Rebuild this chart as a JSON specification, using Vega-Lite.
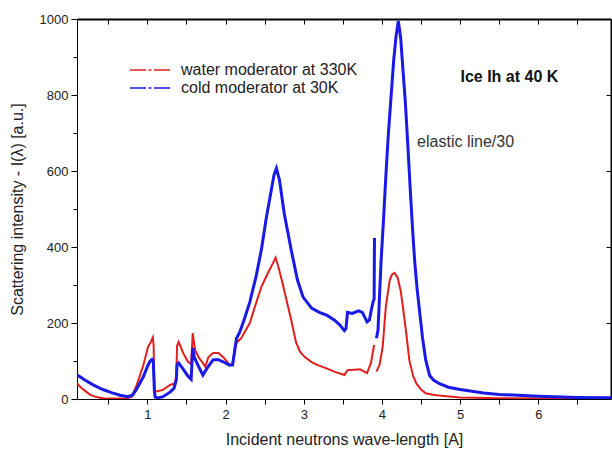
{
  "$schema": "https://vega.github.io/schema/vega-lite/v6.json",
  "width": 534,
  "height": 380,
  "autosize": {"type": "none"},
  "padding": {"left": 77, "top": 19, "right": 1, "bottom": 50},
  "background": "white",
  "config": {
    "font": "Liberation Sans",
    "view": {"stroke": null},
    "axis": {
      "grid": false,
      "domainColor": "#000000",
      "domainWidth": 1,
      "tickColor": "#000000",
      "tickWidth": 1,
      "labelColor": "#222222",
      "labelFontSize": 13,
      "labelFont": "Liberation Sans",
      "titleFont": "Liberation Sans",
      "titleFontSize": 16,
      "titleFontWeight": "normal",
      "titleColor": "#222222"
    },
    "legend": {
      "labelFont": "Liberation Sans",
      "labelFontSize": 16,
      "labelColor": "#222222",
      "labelLimit": 400
    }
  },
  "datasets": {
    "water": [
      {"series": "water moderator at 330K", "seg": 1, "lam": 0.1, "I": 42},
      {"series": "water moderator at 330K", "seg": 1, "lam": 0.15, "I": 30},
      {"series": "water moderator at 330K", "seg": 1, "lam": 0.2, "I": 22},
      {"series": "water moderator at 330K", "seg": 1, "lam": 0.27, "I": 11},
      {"series": "water moderator at 330K", "seg": 1, "lam": 0.35, "I": 5},
      {"series": "water moderator at 330K", "seg": 1, "lam": 0.43, "I": 2},
      {"series": "water moderator at 330K", "seg": 1, "lam": 0.6, "I": 1},
      {"series": "water moderator at 330K", "seg": 1, "lam": 0.75, "I": 2},
      {"series": "water moderator at 330K", "seg": 1, "lam": 0.8, "I": 6},
      {"series": "water moderator at 330K", "seg": 1, "lam": 0.86, "I": 35},
      {"series": "water moderator at 330K", "seg": 1, "lam": 0.9, "I": 59},
      {"series": "water moderator at 330K", "seg": 1, "lam": 0.95, "I": 90},
      {"series": "water moderator at 330K", "seg": 1, "lam": 1.01, "I": 138},
      {"series": "water moderator at 330K", "seg": 1, "lam": 1.04, "I": 148},
      {"series": "water moderator at 330K", "seg": 1, "lam": 1.07, "I": 162},
      {"series": "water moderator at 330K", "seg": 1, "lam": 1.08, "I": 140},
      {"series": "water moderator at 330K", "seg": 1, "lam": 1.09, "I": 30},
      {"series": "water moderator at 330K", "seg": 1, "lam": 1.1, "I": 19},
      {"series": "water moderator at 330K", "seg": 1, "lam": 1.2, "I": 24},
      {"series": "water moderator at 330K", "seg": 1, "lam": 1.29, "I": 37},
      {"series": "water moderator at 330K", "seg": 1, "lam": 1.35, "I": 41},
      {"series": "water moderator at 330K", "seg": 1, "lam": 1.37, "I": 60},
      {"series": "water moderator at 330K", "seg": 1, "lam": 1.38, "I": 140},
      {"series": "water moderator at 330K", "seg": 1, "lam": 1.4, "I": 150},
      {"series": "water moderator at 330K", "seg": 1, "lam": 1.46, "I": 120},
      {"series": "water moderator at 330K", "seg": 1, "lam": 1.52, "I": 98},
      {"series": "water moderator at 330K", "seg": 1, "lam": 1.56, "I": 92},
      {"series": "water moderator at 330K", "seg": 1, "lam": 1.58, "I": 173},
      {"series": "water moderator at 330K", "seg": 1, "lam": 1.61, "I": 129},
      {"series": "water moderator at 330K", "seg": 1, "lam": 1.66, "I": 108},
      {"series": "water moderator at 330K", "seg": 1, "lam": 1.71, "I": 95},
      {"series": "water moderator at 330K", "seg": 1, "lam": 1.74, "I": 85},
      {"series": "water moderator at 330K", "seg": 1, "lam": 1.78, "I": 110},
      {"series": "water moderator at 330K", "seg": 1, "lam": 1.84, "I": 121},
      {"series": "water moderator at 330K", "seg": 1, "lam": 1.91, "I": 121},
      {"series": "water moderator at 330K", "seg": 1, "lam": 1.98, "I": 108},
      {"series": "water moderator at 330K", "seg": 1, "lam": 2.05, "I": 90},
      {"series": "water moderator at 330K", "seg": 1, "lam": 2.09, "I": 92},
      {"series": "water moderator at 330K", "seg": 1, "lam": 2.12, "I": 140},
      {"series": "water moderator at 330K", "seg": 1, "lam": 2.15, "I": 150},
      {"series": "water moderator at 330K", "seg": 1, "lam": 2.2, "I": 160},
      {"series": "water moderator at 330K", "seg": 1, "lam": 2.31, "I": 200},
      {"series": "water moderator at 330K", "seg": 1, "lam": 2.41, "I": 265},
      {"series": "water moderator at 330K", "seg": 1, "lam": 2.46, "I": 296},
      {"series": "water moderator at 330K", "seg": 1, "lam": 2.54, "I": 331},
      {"series": "water moderator at 330K", "seg": 1, "lam": 2.6, "I": 355},
      {"series": "water moderator at 330K", "seg": 1, "lam": 2.64, "I": 372},
      {"series": "water moderator at 330K", "seg": 1, "lam": 2.68, "I": 345},
      {"series": "water moderator at 330K", "seg": 1, "lam": 2.73, "I": 304},
      {"series": "water moderator at 330K", "seg": 1, "lam": 2.78, "I": 260},
      {"series": "water moderator at 330K", "seg": 1, "lam": 2.84, "I": 208},
      {"series": "water moderator at 330K", "seg": 1, "lam": 2.9, "I": 150},
      {"series": "water moderator at 330K", "seg": 1, "lam": 2.95, "I": 125},
      {"series": "water moderator at 330K", "seg": 1, "lam": 3.01, "I": 111},
      {"series": "water moderator at 330K", "seg": 1, "lam": 3.1, "I": 97},
      {"series": "water moderator at 330K", "seg": 1, "lam": 3.18, "I": 89},
      {"series": "water moderator at 330K", "seg": 1, "lam": 3.3, "I": 80},
      {"series": "water moderator at 330K", "seg": 1, "lam": 3.39, "I": 72},
      {"series": "water moderator at 330K", "seg": 1, "lam": 3.52, "I": 63},
      {"series": "water moderator at 330K", "seg": 1, "lam": 3.56, "I": 76},
      {"series": "water moderator at 330K", "seg": 1, "lam": 3.65, "I": 77},
      {"series": "water moderator at 330K", "seg": 1, "lam": 3.72, "I": 78},
      {"series": "water moderator at 330K", "seg": 1, "lam": 3.81, "I": 68},
      {"series": "water moderator at 330K", "seg": 1, "lam": 3.86, "I": 95},
      {"series": "water moderator at 330K", "seg": 1, "lam": 3.9, "I": 142},
      {"series": "water moderator at 330K", "seg": 2, "lam": 3.93, "I": 72},
      {"series": "water moderator at 330K", "seg": 2, "lam": 3.97, "I": 90},
      {"series": "water moderator at 330K", "seg": 2, "lam": 4.01, "I": 138},
      {"series": "water moderator at 330K", "seg": 2, "lam": 4.05, "I": 243},
      {"series": "water moderator at 330K", "seg": 2, "lam": 4.1, "I": 313},
      {"series": "water moderator at 330K", "seg": 2, "lam": 4.13, "I": 328},
      {"series": "water moderator at 330K", "seg": 2, "lam": 4.16, "I": 332},
      {"series": "water moderator at 330K", "seg": 2, "lam": 4.2, "I": 320},
      {"series": "water moderator at 330K", "seg": 2, "lam": 4.24, "I": 285},
      {"series": "water moderator at 330K", "seg": 2, "lam": 4.27, "I": 240},
      {"series": "water moderator at 330K", "seg": 2, "lam": 4.31, "I": 175},
      {"series": "water moderator at 330K", "seg": 2, "lam": 4.35, "I": 103},
      {"series": "water moderator at 330K", "seg": 2, "lam": 4.4, "I": 60},
      {"series": "water moderator at 330K", "seg": 2, "lam": 4.44, "I": 41},
      {"series": "water moderator at 330K", "seg": 2, "lam": 4.5, "I": 25},
      {"series": "water moderator at 330K", "seg": 2, "lam": 4.56, "I": 15},
      {"series": "water moderator at 330K", "seg": 2, "lam": 4.65, "I": 11},
      {"series": "water moderator at 330K", "seg": 2, "lam": 4.73, "I": 9},
      {"series": "water moderator at 330K", "seg": 2, "lam": 5.0, "I": 4},
      {"series": "water moderator at 330K", "seg": 2, "lam": 5.5, "I": 2},
      {"series": "water moderator at 330K", "seg": 2, "lam": 6.2, "I": 1},
      {"series": "water moderator at 330K", "seg": 2, "lam": 6.93, "I": 1}
    ],
    "cold": [
      {"series": "cold moderator at 30K", "seg": 1, "lam": 0.1, "I": 63},
      {"series": "cold moderator at 30K", "seg": 1, "lam": 0.15, "I": 57},
      {"series": "cold moderator at 30K", "seg": 1, "lam": 0.2, "I": 50},
      {"series": "cold moderator at 30K", "seg": 1, "lam": 0.3, "I": 38},
      {"series": "cold moderator at 30K", "seg": 1, "lam": 0.43, "I": 25},
      {"series": "cold moderator at 30K", "seg": 1, "lam": 0.55, "I": 16},
      {"series": "cold moderator at 30K", "seg": 1, "lam": 0.65, "I": 10},
      {"series": "cold moderator at 30K", "seg": 1, "lam": 0.75, "I": 6},
      {"series": "cold moderator at 30K", "seg": 1, "lam": 0.81, "I": 10},
      {"series": "cold moderator at 30K", "seg": 1, "lam": 0.86, "I": 25},
      {"series": "cold moderator at 30K", "seg": 1, "lam": 0.9, "I": 40},
      {"series": "cold moderator at 30K", "seg": 1, "lam": 0.95, "I": 59},
      {"series": "cold moderator at 30K", "seg": 1, "lam": 1.0, "I": 85},
      {"series": "cold moderator at 30K", "seg": 1, "lam": 1.03, "I": 98},
      {"series": "cold moderator at 30K", "seg": 1, "lam": 1.06, "I": 104},
      {"series": "cold moderator at 30K", "seg": 1, "lam": 1.075, "I": 100},
      {"series": "cold moderator at 30K", "seg": 1, "lam": 1.09, "I": 20},
      {"series": "cold moderator at 30K", "seg": 1, "lam": 1.1, "I": 5},
      {"series": "cold moderator at 30K", "seg": 1, "lam": 1.14, "I": 3},
      {"series": "cold moderator at 30K", "seg": 1, "lam": 1.2, "I": 6},
      {"series": "cold moderator at 30K", "seg": 1, "lam": 1.29, "I": 18},
      {"series": "cold moderator at 30K", "seg": 1, "lam": 1.34, "I": 28},
      {"series": "cold moderator at 30K", "seg": 1, "lam": 1.37, "I": 50},
      {"series": "cold moderator at 30K", "seg": 1, "lam": 1.38, "I": 90},
      {"series": "cold moderator at 30K", "seg": 1, "lam": 1.4, "I": 95},
      {"series": "cold moderator at 30K", "seg": 1, "lam": 1.46, "I": 78},
      {"series": "cold moderator at 30K", "seg": 1, "lam": 1.52, "I": 60},
      {"series": "cold moderator at 30K", "seg": 1, "lam": 1.56, "I": 52},
      {"series": "cold moderator at 30K", "seg": 1, "lam": 1.58, "I": 135},
      {"series": "cold moderator at 30K", "seg": 1, "lam": 1.6, "I": 110},
      {"series": "cold moderator at 30K", "seg": 1, "lam": 1.65, "I": 88},
      {"series": "cold moderator at 30K", "seg": 1, "lam": 1.71, "I": 63},
      {"series": "cold moderator at 30K", "seg": 1, "lam": 1.76, "I": 80},
      {"series": "cold moderator at 30K", "seg": 1, "lam": 1.84, "I": 103},
      {"series": "cold moderator at 30K", "seg": 1, "lam": 1.9, "I": 104},
      {"series": "cold moderator at 30K", "seg": 1, "lam": 1.97, "I": 98},
      {"series": "cold moderator at 30K", "seg": 1, "lam": 2.05, "I": 89},
      {"series": "cold moderator at 30K", "seg": 1, "lam": 2.09, "I": 90},
      {"series": "cold moderator at 30K", "seg": 1, "lam": 2.12, "I": 130},
      {"series": "cold moderator at 30K", "seg": 1, "lam": 2.14, "I": 160},
      {"series": "cold moderator at 30K", "seg": 1, "lam": 2.18, "I": 175},
      {"series": "cold moderator at 30K", "seg": 1, "lam": 2.24, "I": 210},
      {"series": "cold moderator at 30K", "seg": 1, "lam": 2.31, "I": 255},
      {"series": "cold moderator at 30K", "seg": 1, "lam": 2.39, "I": 322},
      {"series": "cold moderator at 30K", "seg": 1, "lam": 2.46, "I": 395},
      {"series": "cold moderator at 30K", "seg": 1, "lam": 2.52, "I": 475},
      {"series": "cold moderator at 30K", "seg": 1, "lam": 2.59, "I": 555},
      {"series": "cold moderator at 30K", "seg": 1, "lam": 2.62, "I": 590},
      {"series": "cold moderator at 30K", "seg": 1, "lam": 2.65, "I": 607},
      {"series": "cold moderator at 30K", "seg": 1, "lam": 2.69, "I": 576},
      {"series": "cold moderator at 30K", "seg": 1, "lam": 2.75, "I": 489},
      {"series": "cold moderator at 30K", "seg": 1, "lam": 2.84, "I": 392},
      {"series": "cold moderator at 30K", "seg": 1, "lam": 2.92, "I": 313},
      {"series": "cold moderator at 30K", "seg": 1, "lam": 2.99, "I": 269},
      {"series": "cold moderator at 30K", "seg": 1, "lam": 3.1, "I": 239},
      {"series": "cold moderator at 30K", "seg": 1, "lam": 3.2, "I": 228},
      {"series": "cold moderator at 30K", "seg": 1, "lam": 3.3, "I": 220},
      {"series": "cold moderator at 30K", "seg": 1, "lam": 3.39, "I": 208},
      {"series": "cold moderator at 30K", "seg": 1, "lam": 3.46, "I": 195},
      {"series": "cold moderator at 30K", "seg": 1, "lam": 3.52, "I": 180},
      {"series": "cold moderator at 30K", "seg": 1, "lam": 3.54, "I": 185},
      {"series": "cold moderator at 30K", "seg": 1, "lam": 3.56, "I": 228},
      {"series": "cold moderator at 30K", "seg": 1, "lam": 3.62, "I": 225},
      {"series": "cold moderator at 30K", "seg": 1, "lam": 3.7, "I": 232},
      {"series": "cold moderator at 30K", "seg": 1, "lam": 3.75, "I": 228},
      {"series": "cold moderator at 30K", "seg": 1, "lam": 3.81, "I": 203},
      {"series": "cold moderator at 30K", "seg": 1, "lam": 3.84, "I": 208},
      {"series": "cold moderator at 30K", "seg": 1, "lam": 3.87, "I": 240},
      {"series": "cold moderator at 30K", "seg": 1, "lam": 3.89, "I": 258},
      {"series": "cold moderator at 30K", "seg": 1, "lam": 3.9, "I": 262},
      {"series": "cold moderator at 30K", "seg": 1, "lam": 3.905, "I": 424},
      {"series": "cold moderator at 30K", "seg": 2, "lam": 3.93, "I": 160},
      {"series": "cold moderator at 30K", "seg": 2, "lam": 3.95, "I": 181},
      {"series": "cold moderator at 30K", "seg": 2, "lam": 3.99, "I": 366},
      {"series": "cold moderator at 30K", "seg": 2, "lam": 4.02, "I": 470},
      {"series": "cold moderator at 30K", "seg": 2, "lam": 4.05, "I": 585},
      {"series": "cold moderator at 30K", "seg": 2, "lam": 4.08, "I": 690},
      {"series": "cold moderator at 30K", "seg": 2, "lam": 4.12, "I": 804},
      {"series": "cold moderator at 30K", "seg": 2, "lam": 4.15, "I": 890},
      {"series": "cold moderator at 30K", "seg": 2, "lam": 4.18, "I": 953},
      {"series": "cold moderator at 30K", "seg": 2, "lam": 4.21, "I": 995},
      {"series": "cold moderator at 30K", "seg": 2, "lam": 4.24, "I": 950},
      {"series": "cold moderator at 30K", "seg": 2, "lam": 4.26, "I": 892},
      {"series": "cold moderator at 30K", "seg": 2, "lam": 4.3, "I": 780},
      {"series": "cold moderator at 30K", "seg": 2, "lam": 4.33, "I": 673},
      {"series": "cold moderator at 30K", "seg": 2, "lam": 4.36, "I": 560},
      {"series": "cold moderator at 30K", "seg": 2, "lam": 4.39, "I": 453},
      {"series": "cold moderator at 30K", "seg": 2, "lam": 4.42, "I": 360},
      {"series": "cold moderator at 30K", "seg": 2, "lam": 4.45, "I": 290},
      {"series": "cold moderator at 30K", "seg": 2, "lam": 4.48, "I": 234},
      {"series": "cold moderator at 30K", "seg": 2, "lam": 4.52, "I": 160},
      {"series": "cold moderator at 30K", "seg": 2, "lam": 4.56, "I": 103},
      {"series": "cold moderator at 30K", "seg": 2, "lam": 4.61, "I": 62},
      {"series": "cold moderator at 30K", "seg": 2, "lam": 4.66, "I": 50},
      {"series": "cold moderator at 30K", "seg": 2, "lam": 4.73, "I": 41},
      {"series": "cold moderator at 30K", "seg": 2, "lam": 4.85, "I": 31},
      {"series": "cold moderator at 30K", "seg": 2, "lam": 5.0, "I": 25},
      {"series": "cold moderator at 30K", "seg": 2, "lam": 5.3, "I": 16},
      {"series": "cold moderator at 30K", "seg": 2, "lam": 5.5, "I": 12},
      {"series": "cold moderator at 30K", "seg": 2, "lam": 6.0, "I": 7},
      {"series": "cold moderator at 30K", "seg": 2, "lam": 6.5, "I": 4},
      {"series": "cold moderator at 30K", "seg": 2, "lam": 6.93, "I": 3}
    ],
    "title": [
      {"lam": 5.63, "I": 847, "text": "Ice Ih at 40 K"}
    ],
    "note": [
      {"lam": 4.45, "I": 677, "text": "elastic line/30"}
    ]
  },
  "layer": [
    {
      "data": {"name": "water"},
      "mark": {"type": "line", "clip": true, "strokeWidth": 2},
      "encoding": {
        "x": {
          "field": "lam", "type": "quantitative",
          "scale": {"domain": [0.1, 6.93], "nice": false, "zero": false},
          "axis": {
            "orient": "bottom",
            "values": [0.5, 1, 1.5, 2, 2.5, 3, 3.5, 4, 4.5, 5, 5.5, 6, 6.5],
            "labelExpr": "datum.value % 1 == 0 ? format(datum.value, 'd') : ''",
            "tickSize": 5,
            "labelPadding": 4,
            "labelFlush": false,
            "title": "Incident neutrons wave-length [A]",
            "titlePadding": 10
          }
        },
        "y": {
          "field": "I", "type": "quantitative",
          "scale": {"domain": [0, 1000], "nice": false},
          "axis": {
            "orient": "left",
            "values": [0, 100, 200, 300, 400, 500, 600, 700, 800, 900, 1000],
            "labelExpr": "datum.value % 200 == 0 ? datum.label : ''",
            "format": "d",
            "tickSize": {"condition": {"test": "datum.value % 200 == 0", "value": 6}, "value": 4},
            "labelPadding": 3,
            "labelFlush": false,
            "title": "Scattering intensity - I(λ) [a.u.]",
            "titlePadding": 14
          }
        },
        "color": {
          "field": "series", "type": "nominal",
          "scale": {"domain": ["water moderator at 330K", "cold moderator at 30K"], "range": ["#e31e1e", "#1a1ae6"]},
          "legend": {
            "title": null,
            "orient": "none",
            "legendX": 80,
            "legendY": 43,
            "symbolType": "M-7,0L-3.8,0M-3.3,0L-2.7,0M-2.2,0L1,0",
            "symbolSize": 100,
            "symbolStrokeWidth": 1.5,
            "labelOffset": 8,
            "labelLimit": 400,
            "rowPadding": 2,
            "padding": 0
          }
        },
        "detail": {"field": "seg", "type": "nominal"}
      }
    },
    {
      "data": {"name": "cold"},
      "mark": {"type": "line", "clip": true, "strokeWidth": 3},
      "encoding": {
        "x": {
          "field": "lam", "type": "quantitative",
          "scale": {"domain": [0.1, 6.93], "nice": false, "zero": false},
          "axis": {"orient": "top", "values": [0.5, 1, 1.5, 2, 2.5, 3, 3.5, 4, 4.5, 5, 5.5, 6, 6.5], "labelOpacity": 0, "labelFontSize": 1, "domainWidth": 2, "tickSize": -5, "title": null}
        },
        "y": {
          "field": "I", "type": "quantitative",
          "scale": {"domain": [0, 1000], "nice": false},
          "axis": {"orient": "right", "values": [200, 400, 600, 800], "labelOpacity": 0, "labelFontSize": 1, "domainWidth": 2, "tickSize": -5, "title": null}
        },
        "color": {"field": "series", "type": "nominal"},
        "detail": {"field": "seg", "type": "nominal"}
      }
    },
    {
      "data": {"name": "title"},
      "mark": {"type": "text", "align": "center", "baseline": "middle", "fontSize": 16, "fontWeight": "bold", "font": "Liberation Sans", "color": "#111111"},
      "encoding": {
        "x": {"field": "lam", "type": "quantitative", "axis": null},
        "y": {"field": "I", "type": "quantitative", "axis": null},
        "text": {"field": "text"}
      }
    },
    {
      "data": {"name": "note"},
      "mark": {"type": "text", "align": "left", "baseline": "middle", "fontSize": 16, "font": "Liberation Sans", "color": "#333333"},
      "encoding": {
        "x": {"field": "lam", "type": "quantitative", "axis": null},
        "y": {"field": "I", "type": "quantitative", "axis": null},
        "text": {"field": "text"}
      }
    }
  ],
  "resolve": {"axis": {"x": "independent", "y": "independent"}}
}
